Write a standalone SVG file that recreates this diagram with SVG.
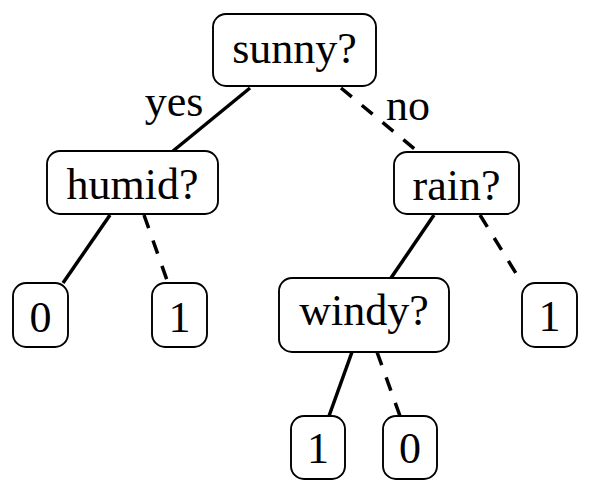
<svg xmlns="http://www.w3.org/2000/svg" width="597" height="495" viewBox="0 0 597 495">
<style>
.box{fill:#fff;stroke:#000;stroke-width:1.9}
.t{font-family:"Liberation Serif","Times New Roman",serif;font-size:44px;fill:#000;text-anchor:middle}
.e{stroke:#000;stroke-width:3.5;fill:none}
.d{stroke-dasharray:14 13}
</style>
<rect width="597" height="495" fill="#fff"/>
<g id="connectors">
<line class="e" x1="250" y1="88" x2="173" y2="151"/>
<line class="e d" x1="341" y1="88" x2="417" y2="151"/>
<line class="e" x1="110" y1="215" x2="63" y2="283"/>
<line class="e d" x1="144" y1="215" x2="168" y2="283"/>
<line class="e" x1="434" y1="215" x2="391" y2="278"/>
<line class="e d" x1="480" y1="215" x2="522" y2="283"/>
<line class="e" x1="352" y1="352" x2="329" y2="416"/>
<line class="e d" x1="377" y1="352" x2="400" y2="416"/>
<text class="t" x="174" y="116">yes</text>
<text class="t" x="408" y="120">no</text>
</g>
<g id="n-sunny"><rect class="box" x="213" y="14" width="163" height="72" rx="13"/><text class="t" x="294.5" y="63">sunny?</text></g>
<g id="n-humid"><rect class="box" x="47" y="151" width="171" height="63" rx="13"/><text class="t" x="132.5" y="199">humid?</text></g>
<g id="n-rain"><rect class="box" x="394" y="152" width="125" height="62" rx="13"/><text class="t" x="456.5" y="200">rain?</text></g>
<g id="n-0a"><rect class="box" x="13" y="283" width="55" height="64" rx="13"/><text class="t" x="40.5" y="332">0</text></g>
<g id="n-1a"><rect class="box" x="152" y="283" width="55" height="64" rx="13"/><text class="t" x="179.5" y="332">1</text></g>
<g id="n-windy"><rect class="box" x="279" y="278" width="170" height="74" rx="13"/><text class="t" x="364" y="325">windy?</text></g>
<g id="n-1b"><rect class="box" x="522" y="283" width="55" height="64" rx="13"/><text class="t" x="549.5" y="331">1</text></g>
<g id="n-1c"><rect class="box" x="291" y="416" width="54" height="63" rx="13"/><text class="t" x="318" y="463">1</text></g>
<g id="n-0b"><rect class="box" x="383" y="416" width="54" height="63" rx="13"/><text class="t" x="410" y="463">0</text></g>
</svg>
